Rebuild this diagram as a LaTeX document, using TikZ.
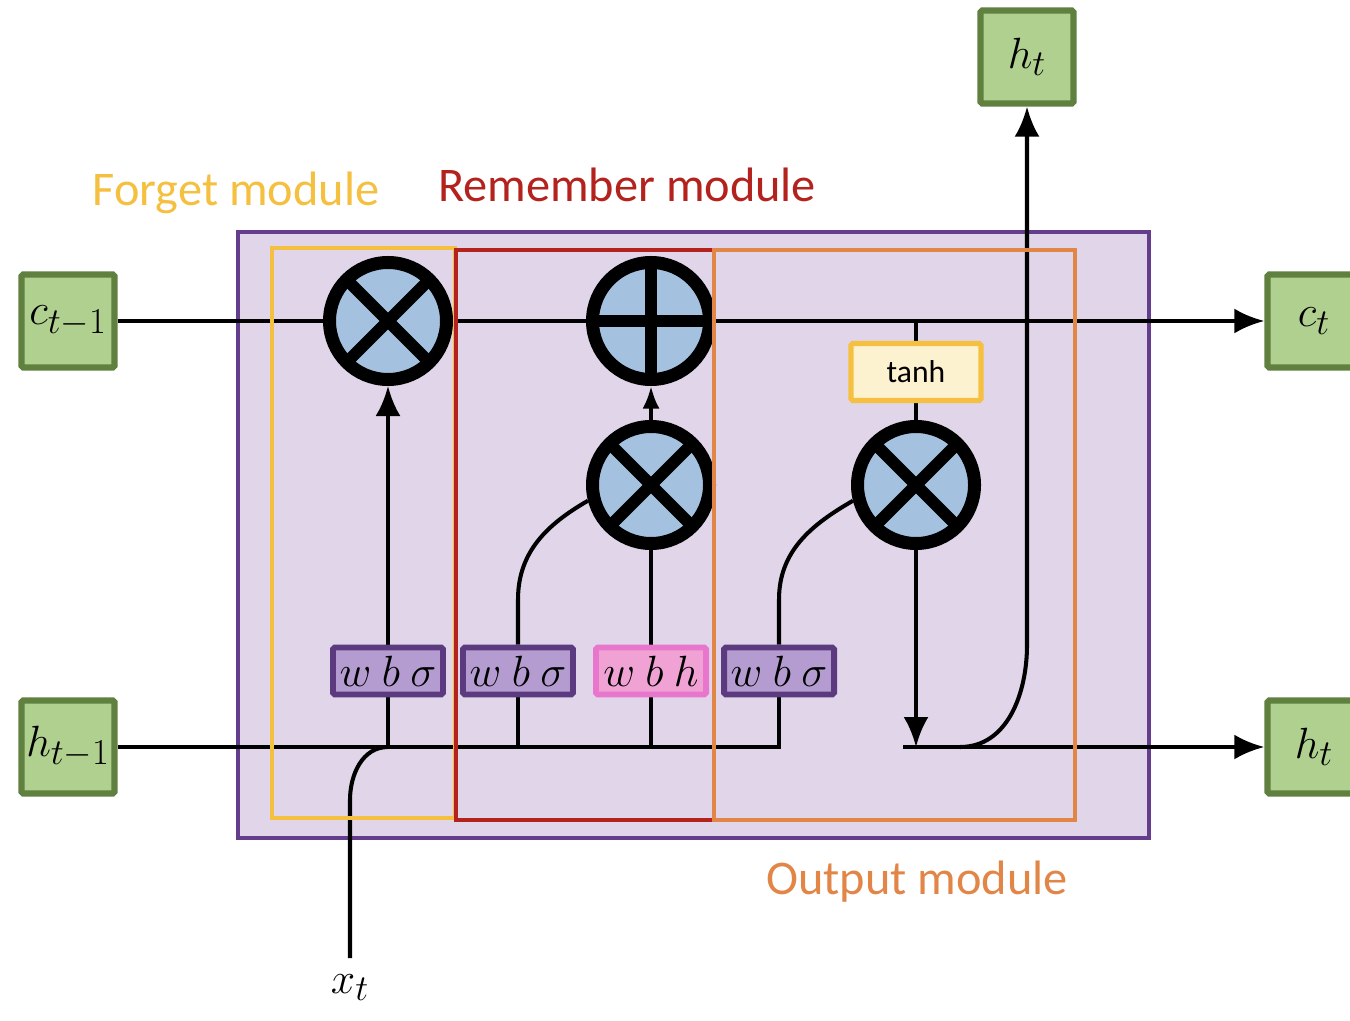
\documentclass[tikz,border=0pt]{standalone}
\usepackage{fontspec}
\setmainfont{Carlito}
\usetikzlibrary{arrows.meta,positioning,calc}
\definecolor{panel}{RGB}{225,213,233}
\definecolor{panelb}{RGB}{100,62,140}
\definecolor{fgt}{RGB}{245,192,64}
\definecolor{rem}{RGB}{180,34,30}
\definecolor{outc}{RGB}{226,134,72}
\definecolor{opf}{RGB}{164,194,224}
\definecolor{gatef}{RGB}{180,156,208}
\definecolor{gated}{RGB}{92,58,128}
\definecolor{tanhf}{RGB}{253,242,208}
\definecolor{pinkf}{RGB}{240,162,212}
\definecolor{pinkd}{RGB}{232,118,204}
\definecolor{stategreen}{RGB}{176,208,144}
\definecolor{stated}{RGB}{96,128,64}
\pgfdeclarelayer{back}
\pgfdeclarelayer{front}
\pgfsetlayers{back,main,front}
\tikzset{
  wire/.style={line width=2.3pt,draw=black},
  arr/.style={wire,-{Latex[length=6mm,width=5mm]}},
  arrsmall/.style={wire,-{Latex[length=4.5mm,width=3.4mm]}},
  op/.style={circle,draw=black,line width=7.4pt,fill=opf,minimum size=2.34cm,inner sep=0pt},
  % cross drawn inside the circle, clipped by it
  mult/.style={op,path picture={
    \draw[line width=6.8pt] (path picture bounding box.north west) -- (path picture bounding box.south east)
      (path picture bounding box.north east) -- (path picture bounding box.south west);}},
  add/.style={op,path picture={
    \draw[line width=6.8pt] (path picture bounding box.north) -- (path picture bounding box.south)
      (path picture bounding box.west) -- (path picture bounding box.east);}},
  gate/.style={rectangle,rounded corners=1pt,draw=gated,fill=gatef,line width=3.4pt,
    minimum width=2.2cm,minimum height=0.94cm,inner sep=0pt,font=\fontsize{26}{30}\selectfont},
  gateh/.style={gate,draw=pinkd,fill=pinkf},
  statebox/.style={rectangle,rounded corners=1pt,draw=stated,fill=stategreen,line width=3.6pt,
    minimum size=1.86cm,inner sep=0pt,font=\fontsize{30}{34}\selectfont},
  actbox/.style={rectangle,rounded corners=1pt,draw=fgt,fill=tanhf,line width=3pt,
    minimum width=2.6cm,minimum height=1.14cm,font=\fontsize{18}{22}\selectfont},
  module/.style={line width=2.8pt},
  title/.style={font=\fontsize{27.5}{32}\selectfont},
}
\begin{document}
\begin{tikzpicture}
\useasboundingbox (0,0) rectangle (27,20.4);
\begin{pgfonlayer}{back}
\draw[fill=panel,draw=panelb,line width=2.2pt] (4.76,3.64) rectangle (22.98,15.76);
\end{pgfonlayer}

% --- States ---
\node[statebox] (cprev) at (1.36,13.98) {$c_{t-1}$};
\node[statebox] (hprev) at (1.36,5.46) {$h_{t-1}$};
\node[statebox] (cnext) at (26.28,13.98) {$c_t$};
\node[statebox] (hnext) at (26.28,5.46) {$h_t$};
\node[statebox] (hup) at (20.54,19.26) {$h_t$};
\coordinate (xfoot) at (7.0,1.24);
\node[below=6pt of xfoot,font=\fontsize{30}{34}\selectfont] (xin) {$x_t$};

% --- Operators ---
\node[mult] (fm) at (7.76,13.98) {};
\node[add] (ad) at (13.02,13.98) {};
\node[mult] (rm) at (13.02,10.7) {};
\node[mult] (om) at (18.32,10.7) {};
\node[actbox] (th) at (18.32,12.96) {tanh};

% --- Gates ---
\node[gate] (g1) at (7.76,6.98) {$w\ b\ \sigma$};
\node[gate] (g2) at (10.36,6.98) {$w\ b\ \sigma$};
\node[gateh] (g3) at (13.02,6.98) {$w\ b\ h$};
\node[gate] (g4) at (15.58,6.98) {$w\ b\ \sigma$};

\coordinate (hend) at (15.58,5.46);
\coordinate (hout) at (18.06,5.46);
\coordinate (hsplit) at (19.2,5.46);
\coordinate (hbend) at (20.54,7.5);
\coordinate (xbend) at (7.0,4.4);
\coordinate (ctap) at (th.north |- cprev.east);

\begin{pgfonlayer}{back}
% cell state and hidden state
\draw[arr] (cprev.east) -- (cnext.west);
\draw[wire] (hprev.east) -- (hend) -- (g4.south);
\draw[arr] (hout) -- (hnext.west);
\draw[wire] (xfoot) -- (xbend) to[out=90,in=180] (g1.south |- hprev.east);
% forget
\draw[wire] (g1.south) -- (g1.south |- hprev.east);
\draw[arr] (g1.north) -- (fm.south);
% remember
\draw[wire] (g2.south) -- (g2.south |- hprev.east);
\draw[wire] (g2.north) -- ++(0,0.9) to[out=90,in=210] (rm.194);
\draw[wire] (g3.south) -- (g3.south |- hprev.east);
\draw[wire] (g3.north) -- (rm.south);
\draw[arrsmall] (rm.north) -- (ad.south);
% output
\draw[wire] (g4.north) -- ++(0,0.9) to[out=90,in=210] (om.194);
\draw[wire] (ctap) -- (th.north);
\draw[wire] (th.south) -- (om.north);
\draw[arr] (om.south) -- (om.south |- hprev.east);
\draw[arr] (hsplit) to[out=0,in=-90] (hbend) -- (hup.south);
\end{pgfonlayer}

% --- Modules ---
\begin{pgfonlayer}{front}
\draw[fgt,module] (5.44,4.04) rectangle (9.10,15.44);
\draw[rem,module] (9.12,4.0) rectangle (14.28,15.4);
\draw[outc,module] (14.28,4.0) rectangle (21.5,15.4);
\end{pgfonlayer}
\node[title,text=fgt] (lblfgt) at (4.72,16.54) {Forget module};
\node[title,text=rem] (lblrem) at (12.54,16.7) {Remember module};
\node[title,text=outc] (lblout) at (18.34,2.76) {Output module};
\end{tikzpicture}
\end{document}
